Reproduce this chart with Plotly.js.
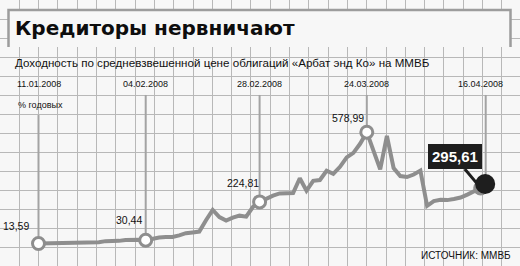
<!DOCTYPE html>
<html>
<head>
<meta charset="utf-8">
<script src="https://cdn.plot.ly/plotly-3.0.1.min.js"></script>
<style>
  html, body { margin: 0; padding: 0; background: #f7f7f7; }
  #chart { width: 520px; height: 266px; }
</style>
</head>
<body>
<div id="chart"></div>
<script>
// ---- Data (trading days, MICEX) ----
const dates = [
  "11.01.2008","14.01.2008","15.01.2008","16.01.2008","17.01.2008","18.01.2008",
  "21.01.2008","22.01.2008","23.01.2008","24.01.2008","25.01.2008",
  "28.01.2008","29.01.2008","30.01.2008","31.01.2008","01.02.2008",
  "04.02.2008","05.02.2008","06.02.2008","07.02.2008","08.02.2008",
  "11.02.2008","12.02.2008","13.02.2008","14.02.2008","15.02.2008",
  "18.02.2008","19.02.2008","20.02.2008","21.02.2008","22.02.2008",
  "26.02.2008","27.02.2008","28.02.2008","29.02.2008",
  "03.03.2008","04.03.2008","05.03.2008","06.03.2008","07.03.2008",
  "11.03.2008","12.03.2008","13.03.2008","14.03.2008",
  "17.03.2008","18.03.2008","19.03.2008","20.03.2008","21.03.2008",
  "24.03.2008","25.03.2008","26.03.2008","27.03.2008","28.03.2008",
  "31.03.2008","01.04.2008","02.04.2008","03.04.2008","04.04.2008",
  "07.04.2008","08.04.2008","09.04.2008","10.04.2008","11.04.2008",
  "14.04.2008","15.04.2008","16.04.2008"
];
const yields = [
  13.59, 13.8, 13.9, 14.0, 14.2, 14.5,
  15.2, 16.0, 17.5, 20.0, 25.5,
  25.0, 27.0, 31.5, 33.0, 32.0,
  30.44, 38, 44, 46, 47,
  55, 66, 70, 74, 132,
  184, 148, 130, 145, 155,
  150, 199, 224.81, 243,
  257, 268, 268, 270, 345,
  282, 332, 336, 383,
  367, 403, 451, 474, 520,
  578.99, 490, 390, 560, 397,
  356, 351, 364, 384, 205,
  229, 236, 234, 240, 247,
  262, 280, 295.61
];
const keyDates = ["11.01.2008","04.02.2008","28.02.2008","24.03.2008","16.04.2008"];
const titleText = "Кредиторы нервничают";
const subtitleText = "Доходность по средневзвешенной цене облигаций «Арбат энд Ко» на ММВБ";
const unitText = "% годовых";
const sourceText = "ИСТОЧНИК: ММВБ";

// ---- Styles ----
const LINE = "#8e8e8e";
const GRID = "#b8b8b8";
const BG = "#f7f7f7";
const DARK = "#1e1e1e";
const SANS = "'Liberation Sans', Arial, sans-serif";

const keyVals = keyDates.map(d => yields[dates.indexOf(d)]);
const fmt = v => v.toFixed(2).replace(".", ",");
const leaderTop = [666, 768, 768, 768, 768];
const last = keyDates.length - 1;

// leader lines (open-circle points)
const lx = [], ly = [];
for (let k = 0; k < last; k++) { lx.push(keyDates[k], keyDates[k], null); ly.push(keyVals[k], leaderTop[k], null); }

const traces = [
  { x: [], y: [], xaxis: "x", yaxis: "y", type: "scatter", hoverinfo: "skip" },
  { x: lx, y: ly, xaxis: "x2", yaxis: "y2", mode: "lines", type: "scatter",
    line: { color: "#a3a3a3", width: 2 }, hoverinfo: "skip" },
  { x: dates, y: yields, xaxis: "x2", yaxis: "y2", mode: "lines", type: "scatter",
    line: { color: LINE, width: 4, shape: "linear" }, hoverinfo: "skip" },
  { x: keyDates.slice(0, last), y: keyVals.slice(0, last), xaxis: "x2", yaxis: "y2", mode: "markers", type: "scatter",
    marker: { size: 12, color: "#ffffff", line: { color: LINE, width: 3 } }, hoverinfo: "skip" },
  { x: keyDates.slice(last), y: keyVals.slice(last), xaxis: "x2", yaxis: "y2", mode: "markers", type: "scatter",
    marker: { size: 15, color: LINE, line: { width: 0 } }, hoverinfo: "skip" }
];

const annotations = [
  { xref: "x", yref: "y", x: 13, y: 28, xanchor: "left", yanchor: "middle", showarrow: false,
    text: "<b>" + titleText + "</b>", font: { family: "DejaVu Sans", size: 20, color: "#0d0d0d" } },
  { xref: "x", yref: "y", x: 13, y: 62.5, xanchor: "left", yanchor: "middle", showarrow: false,
    text: subtitleText, font: { family: SANS, size: 11.6, color: "#111" } },
  { xref: "x", yref: "y", x: 16, y: 105, xanchor: "left", yanchor: "middle", showarrow: false,
    text: unitText, font: { family: SANS, size: 9, color: "#111" } },
  { xref: "x", yref: "y", x: 513, y: 255, xanchor: "right", yanchor: "middle", showarrow: false,
    text: sourceText, font: { family: SANS, size: 10, color: "#111" } }
];
keyDates.forEach(d => annotations.push({
  xref: "x2", yref: "y", x: d, y: 83.5, xanchor: "center", yanchor: "middle", showarrow: false,
  text: d, font: { family: SANS, size: 9, color: "#111" }
}));
const lblShift = [[-8, 17.5], [-2, 20], [1, 18.5], [-1, 14]];
for (let k = 0; k < last; k++) {
  annotations.push({
    xref: "x2", yref: "y2", x: keyDates[k], y: keyVals[k], xanchor: "right", yanchor: "middle",
    xshift: lblShift[k][0], yshift: lblShift[k][1], showarrow: false,
    text: fmt(keyVals[k]), font: { family: SANS, size: 10.5, color: "#111" }
  });
}
annotations.push({
  xref: "x2", yref: "y2", x: keyDates[last], y: keyVals[last], showarrow: true,
  ax: -26, ay: -31, arrowhead: 0, arrowwidth: 3, arrowcolor: DARK, standoff: 4,
  text: "<b>" + fmt(keyVals[last]) + "</b>", font: { family: SANS, size: 15, color: "#ffffff" },
  bgcolor: DARK, bordercolor: DARK, borderpad: 3, borderwidth: 1
});

const layout = {
  width: 520, height: 266,
  margin: { l: 0, r: 0, t: 0, b: 0, pad: 0 },
  paper_bgcolor: BG, plot_bgcolor: BG,
  showlegend: false,
  xaxis: { range: [0, 520], tick0: 0, dtick: 19.3, showgrid: true, gridcolor: GRID, gridwidth: 1,
           zeroline: false, showticklabels: false, ticks: "", showline: false, fixedrange: true },
  yaxis: { range: [266, 0], tick0: 0.5, dtick: 19, showgrid: true, gridcolor: GRID, gridwidth: 1,
           zeroline: false, showticklabels: false, ticks: "", showline: false, fixedrange: true },
  xaxis2: { type: "category", overlaying: "x", categoryorder: "array", categoryarray: dates,
            range: [-5.746, 71.866], visible: false, fixedrange: true },
  yaxis2: { overlaying: "y", range: [-100.7, 1250.3], visible: false, fixedrange: true },
  shapes: [
    { type: "rect", xref: "x", yref: "y", x0: 8, x1: 511, y0: 9.5, y1: 47, layer: "above",
      fillcolor: BG, line: { width: 0 } },
    { type: "path", xref: "x", yref: "y", path: "M 8.5 47 L 8.5 10 L 510.5 10 L 510.5 47", layer: "above",
      line: { color: "#9c9c9c", width: 2.5 } },
    // leader and filled marker of the latest point (offset up-right, shadow left on the line end)
    { type: "line", xref: "x2", yref: "y2", xsizemode: "pixel", xanchor: keyDates[last],
      x0: 5, x1: 5, y0: keyVals[last], y1: leaderTop[last], layer: "above",
      line: { color: "#a3a3a3", width: 2 } },
    { type: "circle", xref: "x2", yref: "y2", xsizemode: "pixel", ysizemode: "pixel",
      xanchor: keyDates[last], yanchor: keyVals[last],
      x0: -5.5, x1: 14.5, y0: -6, y1: 14, layer: "above",
      fillcolor: DARK, line: { width: 0 } }
  ],
  annotations: annotations
};

Plotly.newPlot("chart", traces, layout, { displayModeBar: false, staticPlot: true });
</script>
</body>
</html>
